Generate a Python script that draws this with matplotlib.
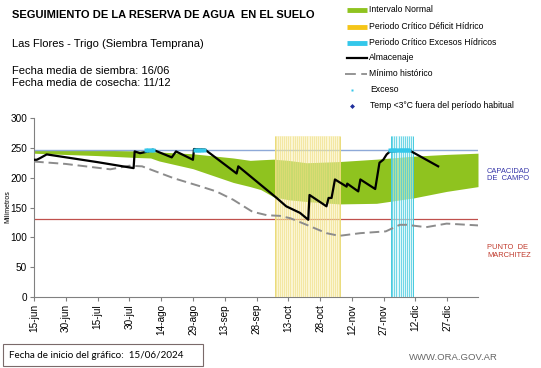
import numpy as np
import matplotlib
matplotlib.use('Agg')
import matplotlib.pyplot as plt
from matplotlib.lines import Line2D
from matplotlib.patches import Rectangle

plt.rcParams['font.family'] = ['Liberation Sans', 'DejaVu Sans']

# days counted from 15-jun-2024
tick_labels = ['15-jun', '30-jun', '15-jul', '30-jul', '14-ago', '29-ago', '13-sep',
               '28-sep', '13-oct', '28-oct', '12-nov', '27-nov', '12-dic', '27-dic']
tick_days = np.arange(0, 15 * len(tick_labels), 15)

capacidad_campo = 246
punto_marchitez = 131

# intervalo normal
normal_days = [0, 14, 30, 47, 55, 59, 75, 94, 102, 107, 113, 120, 128.6, 144, 161.6, 179, 194.7, 209.5]
normal_upper = [247, 246, 246, 245, 244, 243, 240, 233, 229, 230, 231, 229, 225, 227, 231, 236, 239, 241]
normal_lower = [241, 239, 237, 234, 233, 228, 215, 192, 185, 180, 168, 163, 160, 156, 157, 166, 177, 185]

# almacenaje
alm_days = [0, 1.3, 3, 6, 30, 47, 47.5, 50, 54, 56, 65, 67, 75, 75.5, 80.7, 95.6, 96.4,
            109.7, 114.5, 119, 125.5, 129.4, 130, 138, 139, 140.4, 142, 147.5, 147.8,
            153, 154, 161, 163, 164.8, 166.4, 168, 177, 190.7]
alm_vals = [230, 230, 233, 239, 226, 216, 244, 241, 244, 247, 234, 244, 230, 248, 247, 207, 219,
            180, 166, 152, 141, 129.5, 171, 152, 166, 166, 197, 185, 190,
            177, 197, 181, 225, 230, 239, 244, 246, 219]

# minimo historico
min_days = [0, 15, 36, 45, 51, 66, 78, 86, 94, 103, 110, 116, 121, 128.6, 138, 144,
            154, 166, 172.6, 175.8, 185, 194.7, 209.5]
min_vals = [227, 223, 214, 220, 219, 199, 186, 177, 163, 143, 137, 136, 132, 121, 107, 102.5,
            107, 110, 121, 121, 117, 123, 120]

# exceso
exceso_days = [53, 54, 55, 56, 76, 77, 78, 79, 80, 168, 169, 170, 171, 172, 173, 174, 175, 176, 177]
exceso_vals = [247] * len(exceso_days)

# periodos criticos
deficit_period = (113.7, 144.2)
excesos_period = (168.4, 179.0)
period_top = 270

fig = plt.figure(figsize=(5.41, 3.68), dpi=100)
ax = fig.add_axes([34 / 541, 1 - 297 / 368, 444 / 541, 179 / 368])

ax.fill_between(normal_days, normal_lower, normal_upper, color='#8fc31f', lw=0, zorder=1)
ax.axhline(capacidad_campo, color='#8ea9d8', lw=1.0, zorder=2)
ax.axhline(punto_marchitez, color='#c0504d', lw=0.9, zorder=2)

# yellow critical period (striped)
d0, d1 = deficit_period
ax.fill_between([d0, d1], 0, period_top, color='#f8eeb0', alpha=0.55, lw=0, zorder=3)
ax.vlines(np.arange(np.ceil(d0), d1, 1.0), 0, period_top, color='#eddc78', lw=0.5, alpha=0.75, zorder=3)
ax.vlines([d0, d1], 0, period_top, color='#eadb7a', lw=0.7, zorder=3)

# cyan critical period (striped)
c0, c1 = excesos_period
ax.fill_between([c0, c1], 0, period_top, color='#c8f2f7', alpha=0.6, lw=0, zorder=3)
ax.vlines(np.arange(np.ceil(c0), c1, 1.0), 0, period_top, color='#45cade', lw=0.6, alpha=0.85, zorder=3)
ax.vlines([c0, c1], 0, period_top, color='#45cade', lw=0.7, zorder=3)

ax.plot(min_days, min_vals, color='#8c8c8c', lw=1.4, dashes=(5, 2.5), zorder=4)
ax.plot(alm_days, alm_vals, color='black', lw=1.6, zorder=5)
ax.plot(exceso_days, exceso_vals, ls='none', marker='s', ms=3.2, color='#33c7ea', mec='none', zorder=6)

ax.set_xlim(0, 209.5)
ax.set_ylim(0, 300)
ax.set_yticks(np.arange(0, 301, 50))
ax.set_xticks(tick_days)
ax.set_xticklabels(tick_labels, rotation=90)
ax.tick_params(axis='both', labelsize=7.2, color='#808080', length=3, pad=2)
for s in ['top', 'right']:
    ax.spines[s].set_visible(False)
for s in ['left', 'bottom']:
    ax.spines[s].set_color('#808080')
    ax.spines[s].set_linewidth(0.8)


def fx(px):
    return px / 541


def fy(py):
    return 1 - py / 368


fig.text(fx(8), fy(207), 'Milímetros', fontsize=5, rotation=90, ha='center', va='center')

# header texts
fig.text(fx(12), fy(15), 'SEGUIMIENTO DE LA RESERVA DE AGUA  EN EL SUELO',
         fontsize=8, fontweight='bold', va='center')
fig.text(fx(12), fy(44), 'Las Flores - Trigo (Siembra Temprana)', fontsize=8, va='center')
fig.text(fx(12), fy(71.5), 'Fecha media de siembra: 16/06', fontsize=8, va='center')
fig.text(fx(12), fy(83), 'Fecha media de cosecha: 11/12', fontsize=8, va='center')

# legend drawn by hand
leg_fs = 6.2
fig.add_artist(Line2D([fx(347), fx(367)], [fy(10), fy(10)], color='#8fc31f', lw=3.5, solid_capstyle='butt'))
fig.text(fx(369), fy(10), 'Intervalo Normal', fontsize=leg_fs, va='center')
fig.add_artist(Line2D([fx(347), fx(367)], [fy(26.5), fy(26.5)], color='#f5c518', lw=3.5, solid_capstyle='butt'))
fig.text(fx(369), fy(26.5), 'Periodo Crítico Déficit Hídrico', fontsize=leg_fs, va='center')
fig.add_artist(Line2D([fx(347), fx(367)], [fy(42.5), fy(42.5)], color='#33c7ea', lw=3.5, solid_capstyle='butt'))
fig.text(fx(369), fy(42.5), 'Periodo Crítico Excesos Hídricos', fontsize=leg_fs, va='center')
fig.add_artist(Line2D([fx(347), fx(367)], [fy(58), fy(58)], color='black', lw=1.6))
fig.text(fx(369), fy(58), 'Almacenaje', fontsize=leg_fs, va='center')
fig.add_artist(Line2D([fx(345), fx(367)], [fy(73.5), fy(73.5)], color='#8c8c8c', lw=1.3, dashes=(6, 3)))
fig.text(fx(369), fy(73.5), 'Mínimo histórico', fontsize=leg_fs, va='center')
fig.add_artist(Line2D([fx(352)], [fy(90)], ls='none', marker='s', ms=2, color='#33c7ea', mec='none'))
fig.text(fx(370), fy(90), 'Exceso', fontsize=leg_fs, va='center')
fig.add_artist(Line2D([fx(352)], [fy(105.5)], ls='none', marker='D', ms=2.5, color='#1f2f9c', mec='none'))
fig.text(fx(370), fy(105.5), 'Temp <3°C fuera del período habitual', fontsize=leg_fs, va='center')

# side annotations
fig.text(fx(487), fy(175), 'CAPACIDAD\nDE  CAMPO', fontsize=5.4, color='#3535a8', va='center', linespacing=1.1)
fig.text(fx(487), fy(251.5), 'PUNTO  DE\nMARCHITEZ', fontsize=5.4, color='#c0392b', va='center', linespacing=1.1)

# footer
fig.add_artist(Rectangle((fx(3), fy(366)), fx(200), 22 / 368, transform=fig.transFigure,
                         fill=False, edgecolor='#7a6a6a', lw=0.8))
fig.text(fx(9), fy(355), 'Fecha de inicio del gráfico:  15/06/2024', fontsize=7.1,
         family=['Lato', 'DejaVu Sans'], va='center')
fig.text(fx(498), fy(357), 'WWW.ORA.GOV.AR', fontsize=6.8, color='#666666', va='center', ha='right')

fig.savefig('out.png', dpi=100)
